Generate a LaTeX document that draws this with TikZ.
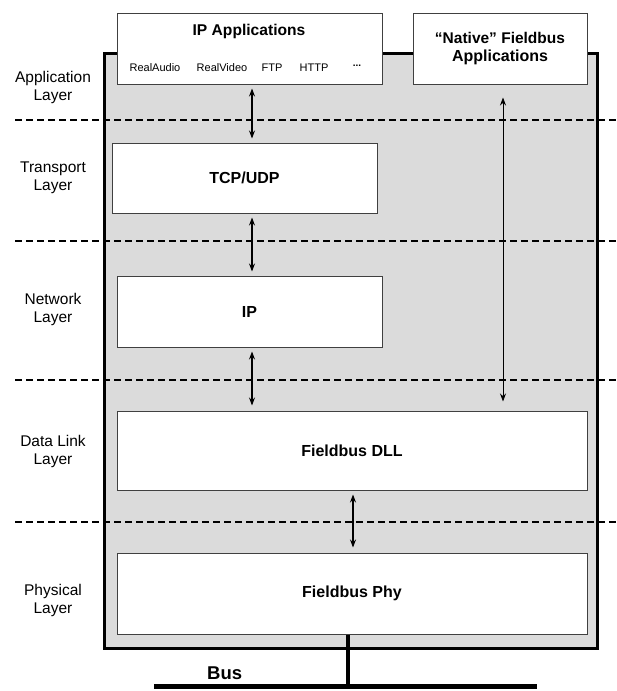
\documentclass[tikz,border=0pt]{standalone}
\usepackage{fontspec}
\setmainfont{Liberation Sans}
\usetikzlibrary{arrows.meta}
\tikzset{
  layerbox/.style={rectangle, draw=black!75, fill=white, line width=1pt, inner sep=0pt,
    font=\fontsize{16}{18}\selectfont\bfseries, align=center},
  layerlabel/.style={align=center, font=\fontsize{15.5}{18}\selectfont},
  applabel/.style={font=\fontsize{11}{13}\selectfont},
  dataflow/.style={{Stealth[length=8pt,width=6pt]}-{Stealth[length=8pt,width=6pt]}, line width=1.2pt},
  layersep/.style={dash pattern=on 7pt off 4pt, line width=1.3pt}
}
\newcommand{\stackbox}[6]{
    % box from (#1,#2) to (#3,#4), named #5
    \node[layerbox, minimum width=#3pt-#1pt, minimum height=#4pt-#2pt] (#5) at ({(#1+#3)/2},{(#2+#4)/2}) {#6};
}
\begin{document}
\begin{tikzpicture}[x=1pt, y=-1pt]
    \useasboundingbox (0,0) rectangle (617,691);
    \pgfmathsetmacro{\labelX}{53}
    \pgfmathsetmacro{\boxL}{117}
    \pgfmathsetmacro{\boxR}{587}

    % Device frame
    \draw[fill=black!14, line width=3pt] (104,53) rectangle (597,648);

    % Layer separators
    \foreach \yy in {120,241,380,522}{
        \draw[layersep] (15,\yy) -- (617,\yy);
    }

    % Layer names
    \node[layerlabel] (lapp) at (\labelX,87) {Application\\Layer};
    \node[layerlabel] (ltrans) at (\labelX,178) {Transport\\Layer};
    \node[layerlabel] (lnet) at (\labelX,309) {Network\\Layer};
    \node[layerlabel] (ldll) at (\labelX,451) {Data Link\\Layer};
    \node[layerlabel] (lphy) at (\labelX,600) {Physical\\Layer};

    % Application boxes
    \stackbox{117}{13}{382}{84}{ipapps}{}
    \node[font=\fontsize{15.6}{18}\selectfont\bfseries] (ipappstitle) at (249,31) {IP Applications};
    \node[applabel] (realaudio) at (155,68) {RealAudio};
    \node[applabel] (realvideo) at (222,68) {RealVideo};
    \node[applabel] (ftp) at (272,68) {FTP};
    \node[applabel] (http) at (314,68) {HTTP};
    \node[applabel, font=\bfseries] (more) at (357,66) {...};
    \stackbox{413}{13}{587}{84}{native}{\fontsize{15.5}{17.5}\selectfont “Native” Fieldbus\\Applications}

    % Protocol stack
    \stackbox{112}{143}{377}{213}{tcp}{TCP/UDP}
    \stackbox{\boxL}{276}{382}{347}{ip}{IP}
    \stackbox{\boxL}{411}{\boxR}{490}{dll}{Fieldbus DLL}
    \stackbox{\boxL}{553}{\boxR}{634}{phy}{Fieldbus Phy}

    % Data paths
    \draw[dataflow] ([yshift=-4pt]ipapps.south -| 252,0) -- ([yshift=4pt]tcp.north -| 252,0);
    \draw[dataflow] ([yshift=-4pt]tcp.south -| 252,0) -- ([yshift=4pt]ip.north -| 252,0);
    \draw[dataflow] ([yshift=-4pt]ip.south -| 252,0) -- ([yshift=5pt]dll.north -| 252,0);
    \draw[dataflow] ([yshift=-4pt]dll.south -| 353,0) -- ([yshift=5pt]phy.north -| 353,0);
    \draw[dataflow, line width=0.9pt] ([yshift=-13pt]native.south -| 503,0) -- ([yshift=9pt]dll.north -| 503,0);

    % Bus
    \coordinate (bustap) at (phy.south -| 348,0);
    \coordinate (busline) at (348,686);
    \draw[line width=4pt] (bustap) -- (busline);
    \draw[line width=5pt] (154,686) -- (537,686);
    \node[font=\fontsize{18.5}{20}\selectfont\bfseries, anchor=west, inner sep=0pt] (bus) at (207,673) {Bus};
\end{tikzpicture}
\end{document}
